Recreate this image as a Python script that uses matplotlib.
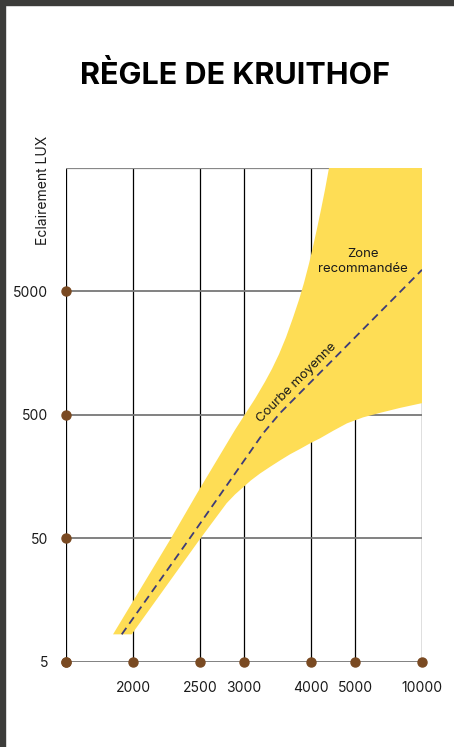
import numpy as np
import matplotlib
matplotlib.use("Agg")
import matplotlib.pyplot as plt
from matplotlib.patches import Rectangle
from matplotlib.ticker import NullLocator

plt.rcParams["font.family"] = ["Inter", "DejaVu Sans"]

# temperatures de couleur (K) et eclairement (lux)
temp_ticks = [2000, 2500, 3000, 4000, 5000, 10000]
lux_ticks = [5, 50, 500, 5000]
temp_min, temp_max = 1500, 10000
lux_min, lux_max = 5, 50000

# zone recommandee : bord superieur (bas -> haut)
upper_T = [1851, 2276, 2493, 2898, 3164, 3313, 3418, 3522, 3627, 3731, 3821, 3896,
           3970, 4045, 4136, 4227, 4318, 4409]
upper_lux = [8.3, 48.3, 123, 377, 673, 924, 1178, 1545, 2122, 3054, 4275, 5874,
             8375, 11500, 16100, 22960, 33340, 50000]
# bord inferieur (gauche -> droite)
lower_T = [1990, 2495, 2803, 2898, 2989, 3104, 3239, 3388, 3537, 3687, 3836, 3985,
           4205, 4500, 4818, 5597, 6866, 8358, 10000]
lower_lux = [8.3, 48.3, 96, 113, 129, 147, 167, 189, 213, 239, 264, 293,
             322, 370, 426, 476, 518, 568, 621]
# courbe moyenne
mean_T = [1916, 2425, 3288, 3537, 10000]
mean_lux = [8.3, 50.1, 355, 515, 7480]

# l'axe des x n'est pas lineaire : ecarts du dessin original
SCALE_T = [temp_min] + temp_ticks
SCALE_POS = [0, 67, 134, 178, 245, 289, 356]

def fwd(t):
    return np.interp(t, SCALE_T, SCALE_POS)

def inv(p):
    return np.interp(p, SCALE_POS, SCALE_T)

YELLOW = "#FEDD55"
BROWN = "#7A4A22"
DASH = "#3D3B78"

fig = plt.figure(figsize=(4.54, 7.47), dpi=100)
fig.patch.set_facecolor("white")
# cadre sombre en haut et a gauche
fig.patches.append(Rectangle((0, 0), 5 / 454, 1, transform=fig.transFigure, color="#3c3c3a", zorder=10))
fig.patches.append(Rectangle((0, 1 - 5 / 747), 1, 5 / 747, transform=fig.transFigure, color="#3c3c3a", zorder=10))

ax = fig.add_axes([66 / 454, 85.5 / 747, 356 / 454, 493.5 / 747])
ax.set_xscale("function", functions=(fwd, inv))
ax.set_yscale("log")
ax.set_xlim(temp_min, temp_max)
ax.set_ylim(lux_min, lux_max)
for s in ax.spines.values():
    s.set_visible(False)

# quadrillage
for t in [temp_min] + temp_ticks:
    ax.axvline(t, color="black", lw=0.9, zorder=1)
for v in lux_ticks:
    ax.axhline(v, color="#777777", lw=1.3, zorder=1)
ax.axhline(lux_max, color="#888888", lw=0.9, zorder=1)

# zone recommandee
poly_T = upper_T + [temp_max] + lower_T[::-1]
poly_lux = upper_lux + [lux_max] + lower_lux[::-1]
ax.fill(poly_T, poly_lux, color=YELLOW, lw=0, zorder=2)

ax.plot(mean_T, mean_lux, color=DASH, lw=1.3, dashes=(4.4, 2.8), zorder=3)

# points marrons
ax.plot([temp_min] * len(lux_ticks), lux_ticks, "o", color=BROWN, ms=6.5, clip_on=False, zorder=5)
ax.plot([temp_min] + temp_ticks, [lux_min] * (len(temp_ticks) + 1), "o", color=BROWN, ms=6.5,
        clip_on=False, zorder=5)

ax.set_xticks(temp_ticks)
ax.set_xticklabels([str(t) for t in temp_ticks])
ax.set_yticks(lux_ticks)
ax.set_yticklabels([str(v) for v in lux_ticks])
ax.xaxis.set_minor_locator(NullLocator())
ax.yaxis.set_minor_locator(NullLocator())
ax.tick_params(axis="both", length=0, labelsize=10, colors="#1a1a1a")
ax.tick_params(axis="x", pad=14)
ax.tick_params(axis="y", pad=13)

ax.text(0.834, 0.8105, "Zone\nrecommandée", transform=ax.transAxes, ha="center", va="center",
        fontsize=9.5, color="#1a1a1a", linespacing=1.25, zorder=6)
ax.text(0.649, 0.564, "Courbe moyenne", transform=ax.transAxes, ha="center", va="center",
        rotation=45, rotation_mode="anchor", fontsize=9.5, color="#1a1a1a", zorder=6)

fig.text(43 / 454, 1 - 190 / 747, "Eclairement LUX", rotation=90, ha="center", va="center",
         fontsize=10, color="#1a1a1a")
fig.text(235 / 454, 1 - 75 / 747, "RÈGLE DE KRUITHOF", ha="center", va="center",
         fontsize=22, fontweight="bold", color="black")

fig.savefig("out.png", dpi=100)
